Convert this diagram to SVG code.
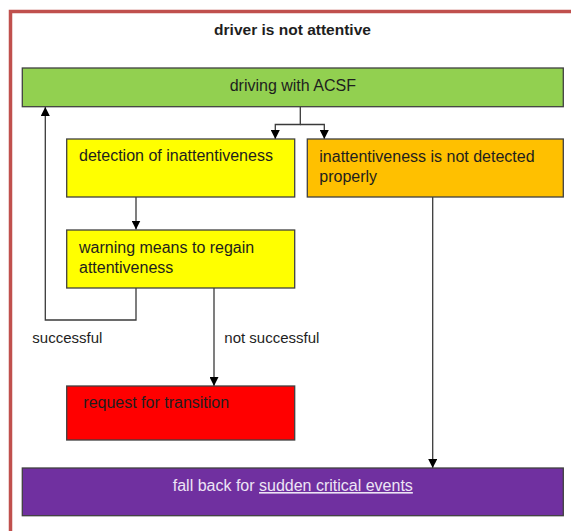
<svg xmlns="http://www.w3.org/2000/svg" width="571" height="531" viewBox="0 0 571 531">
<style>
  text { font-family: "Liberation Sans", Arial, sans-serif; fill: #1e1e1e; }
  .box { stroke: #404040; stroke-width: 1.3; }
  .lbl { font-size: 16px; }
  .edge { fill: none; stroke: #3a3a3a; stroke-width: 1.3; }
</style>
<defs>
  <marker id="arr" markerUnits="userSpaceOnUse" markerWidth="9" markerHeight="9" refX="9" refY="4.5" orient="auto">
    <path d="M0,0 L9,4.5 L0,9 z" fill="#000"/>
  </marker>
</defs>
<rect width="571" height="531" fill="#ffffff"/>
<rect x="10.5" y="11.5" width="600" height="600" fill="none" stroke="#c0504d" stroke-width="3.5"/>
<text x="292.5" y="35" text-anchor="middle" font-size="15.5px" font-weight="bold">driver is not attentive</text>

<g id="connectors">
  <path class="edge" d="M300.3,107 V124.5 H275.3 V139" marker-end="url(#arr)"/>
  <path class="edge" d="M300.3,124.5 H324.3 V139" marker-end="url(#arr)"/>
  <path class="edge" d="M136,197 V229.5" marker-end="url(#arr)"/>
  <path class="edge" d="M136,288 V320 H45.3 V107" marker-end="url(#arr)"/>
  <path class="edge" d="M214,288 V386" marker-end="url(#arr)"/>
  <path class="edge" d="M432.7,197 V468" marker-end="url(#arr)"/>
  <text x="32.3" y="343.3" font-size="15px">successful</text>
  <text x="224.3" y="342.7" font-size="15px">not successful</text>
</g>

<g id="driving">
  <rect class="box" x="22.3" y="68" width="541" height="38.7" fill="#92d050"/>
  <text class="lbl" x="292.8" y="91" text-anchor="middle">driving with ACSF</text>
</g>
<g id="detection">
  <rect class="box" x="66.7" y="139" width="228" height="58" fill="#ffff00"/>
  <text class="lbl" x="79" y="160.7">detection of inattentiveness</text>
</g>
<g id="not-detected">
  <rect class="box" x="307.3" y="139" width="256" height="58" fill="#ffc000"/>
  <text class="lbl" x="319.3" y="161.5">inattentiveness is not detected</text>
  <text class="lbl" x="319.3" y="181.7">properly</text>
</g>
<g id="warning">
  <rect class="box" x="66.7" y="230" width="228" height="58" fill="#ffff00"/>
  <text class="lbl" x="79" y="253.3">warning means to regain</text>
  <text class="lbl" x="79" y="273.3">attentiveness</text>
</g>
<g id="transition">
  <rect class="box" x="66.7" y="386" width="228" height="54" fill="#ff0000"/>
  <text class="lbl" x="83.3" y="408.3">request for transition</text>
</g>
<g id="fallback">
  <rect class="box" x="22.3" y="468" width="541" height="47.7" fill="#7030a0"/>
  <text class="lbl" x="292.8" y="491" text-anchor="middle" style="fill:#ede4f5">fall back for <tspan text-decoration="underline" style="fill:#ede4f5">sudden critical events</tspan></text>
</g>
</svg>
